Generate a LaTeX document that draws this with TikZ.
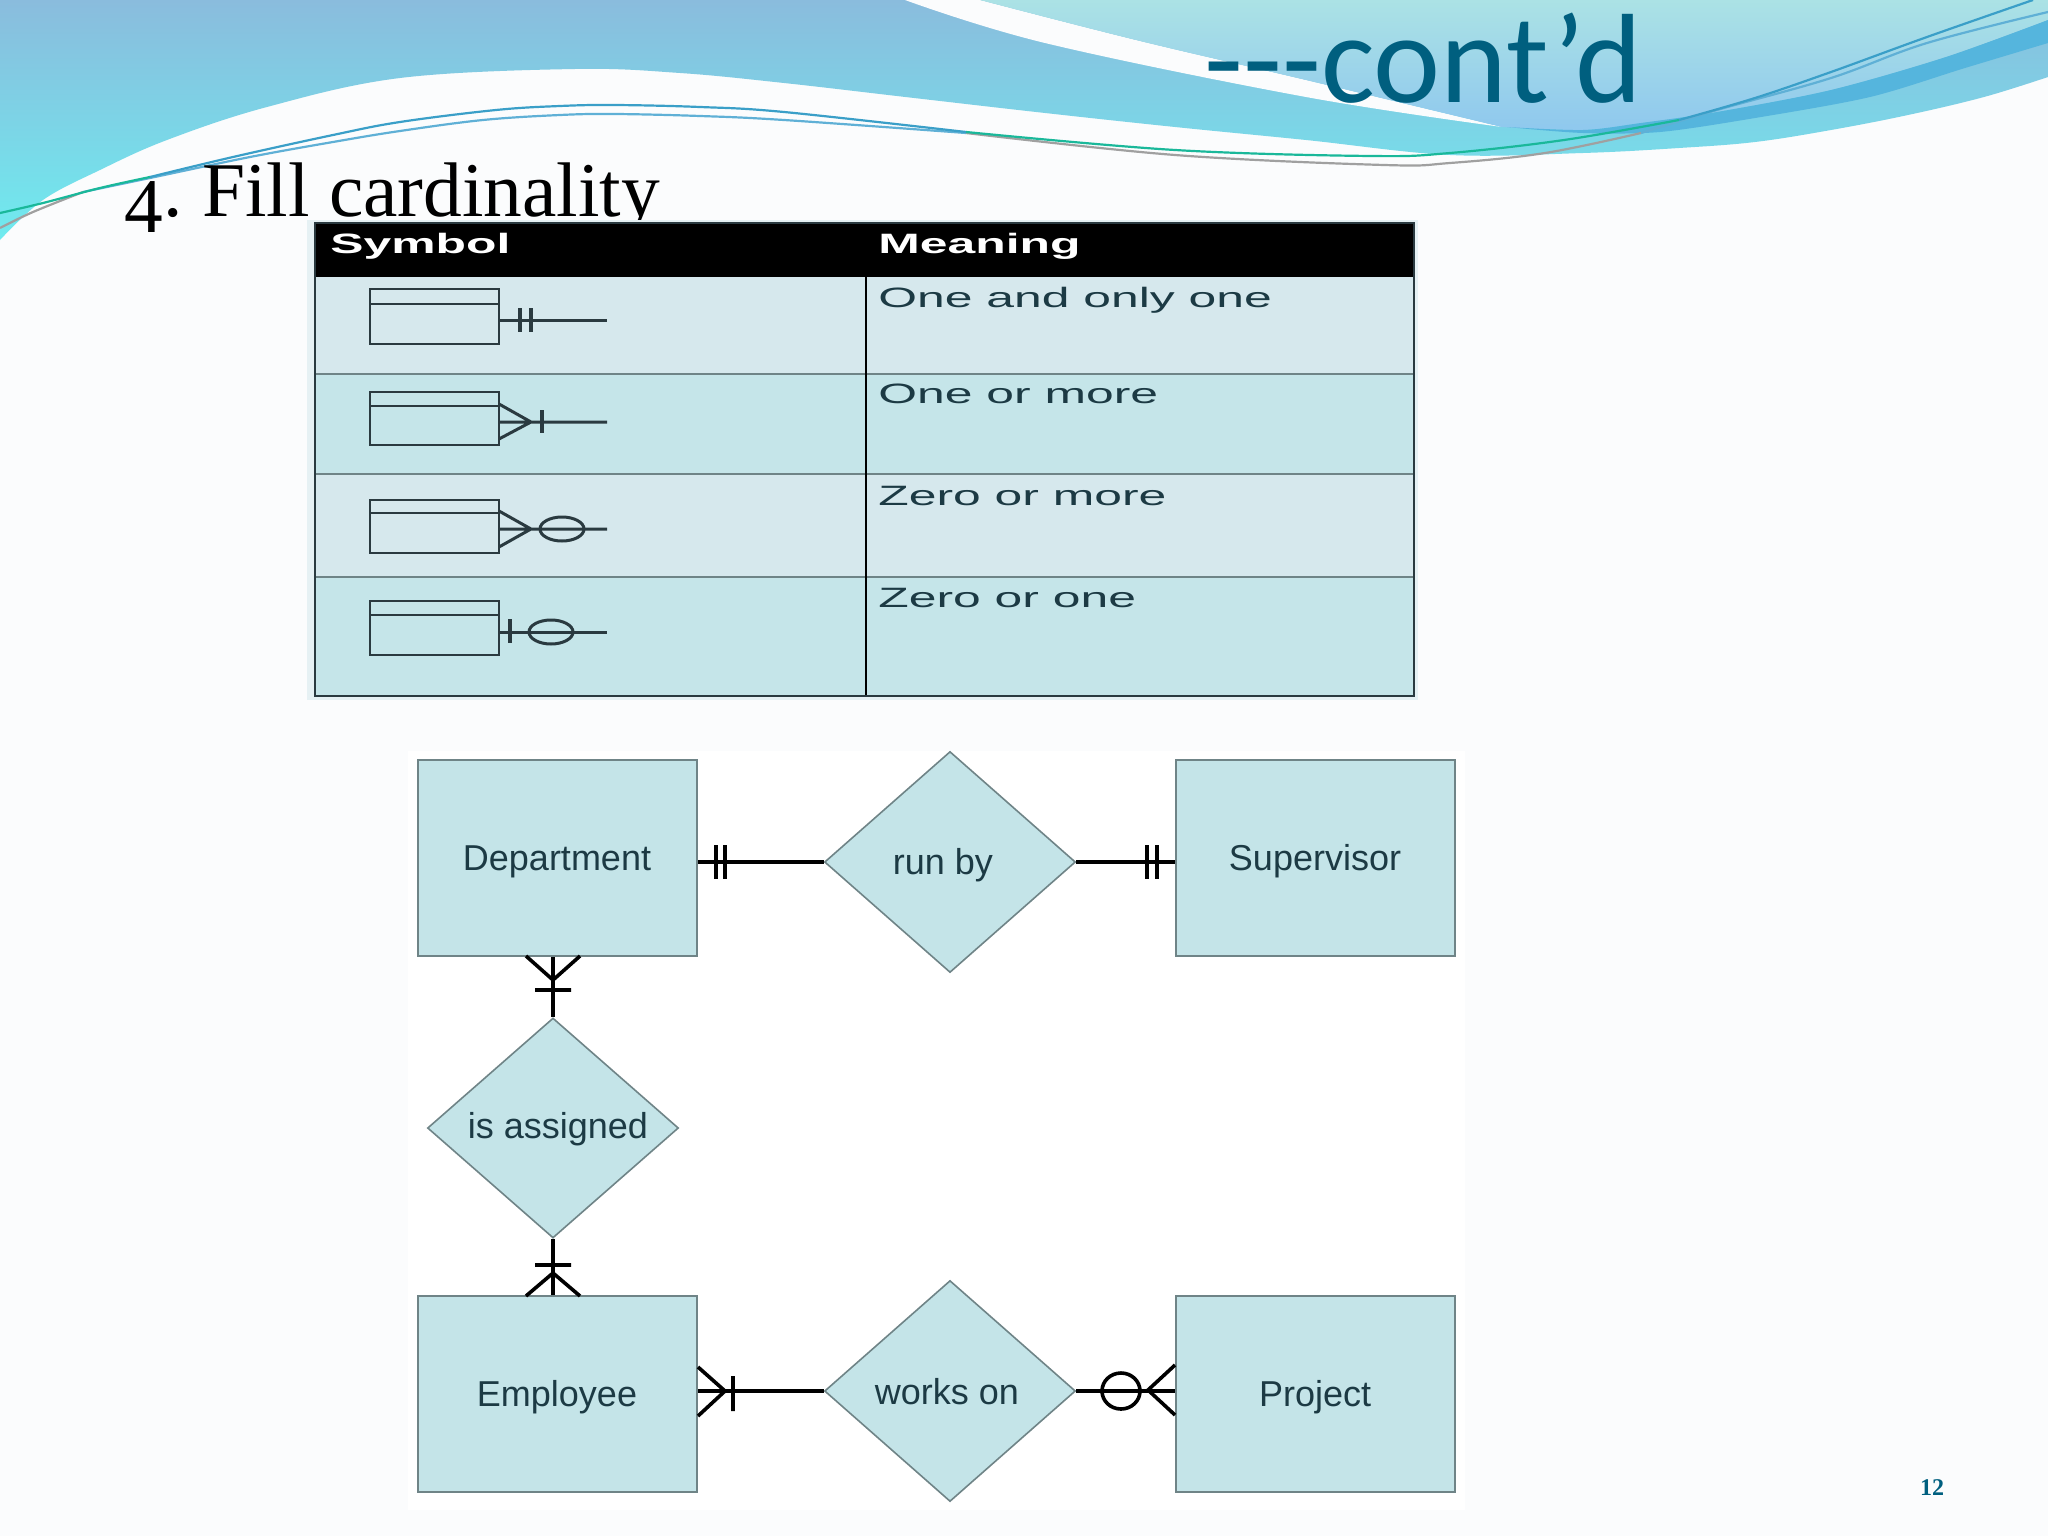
\documentclass[tikz,border=0pt]{standalone}
\usepackage{fontspec}
\setmainfont{Liberation Sans}
\newfontfamily\titlefont{Carlito}
\newfontfamily\seriffont{Liberation Serif}
\usetikzlibrary{shapes.geometric}
\definecolor{pagebg}{HTML}{FBFCFD}
\definecolor{rowa}{HTML}{D6E8ED}
\definecolor{rowb}{HTML}{C5E5E9}
\definecolor{panelbg}{HTML}{E6F1F4}
\definecolor{erfill}{HTML}{C4E4E8}
\definecolor{erline}{HTML}{6F8487}
\definecolor{ertext}{HTML}{1C3A44}
\definecolor{tealtxt}{HTML}{005F7F}
\definecolor{symline}{HTML}{2A3A40}
\definecolor{maintop}{HTML}{8ABCDD}
\definecolor{mainbot}{HTML}{6FEBEF}
\definecolor{lighttop}{HTML}{ABE2E5}
\definecolor{lightbot}{HTML}{8FC8EE}
\definecolor{darkband}{HTML}{55B5DD}
\definecolor{waveblue}{HTML}{3A9FC8}
\definecolor{wavepale}{HTML}{5FB0D6}
\definecolor{wavegreen}{HTML}{1AB89A}
\definecolor{wavegray}{HTML}{A0A0A0}
\tikzset{
  entity/.style={draw=erline,fill=erfill,line width=1pt,minimum width=139.5pt,minimum height=98pt,inner sep=0pt},
  relation/.style={diamond,draw=erline,fill=erfill,line width=.8pt,minimum width=125.5pt,minimum height=110.5pt,inner sep=0pt,aspect=1.13},
  erlabel/.style={anchor=center,inner sep=0pt,text=ertext,font=\fontsize{18}{20}\selectfont},
  erlink/.style={line width=1.7pt,black},
  ermark/.style={line width=1.8pt,black},
  symbox/.style={draw=symline,line width=.8pt,fill=none},
  symlink/.style={line width=1.5pt,symline},
  symbar/.style={line width=2.3pt,symline},
  rowtext/.style={anchor=base west,inner sep=0pt,text=ertext,font=\fontsize{14}{16}\selectfont},
  headtext/.style={anchor=base west,inner sep=0pt,text=white,font=\bfseries\fontsize{14}{16}\selectfont},
  waveline/.style={line width=1.1pt},
}
\newcommand{\widetxt}[1]{\scalebox{1.78}[1]{#1}}
\begin{document}
\begin{tikzpicture}[x=.5pt,y=-.5pt]
\useasboundingbox (0,0) rectangle (2048,1536);
\fill[pagebg] (0,0) rectangle (2048,1536);
% main band
\shade[top color=maintop,bottom color=mainbot] plot[smooth,tension=.6] coordinates {(0,240) (43,200) (100,170) (167,140) (267,107) (400,78) (575,69) (680,73) (784,83) (914,98) (1045,113) (1175,127) (1306,140) (1450,155) (1583,153) (1679,148) (1755,142) (1831,130) (1908,115) (1984,97) (2048,77)} -- (2048,0) -- (0,0) -- cycle;
% white swoosh
\fill[pagebg] plot[smooth,tension=.6] coordinates {(905,0) (1045,43) (1306,97) (1502,127)} -- plot[smooth,tension=.6] coordinates {(1502,127) (1306,80) (1136,40) (980,0)} -- cycle;
% light shape
\shade[top color=lighttop,bottom color=lightbot] plot[smooth,tension=.6] coordinates {(980,0) (1136,40) (1306,80) (1502,127)} -- plot[smooth,tension=.5] coordinates {(1502,127) (1583,130) (1641,123) (1717,112) (1831,90) (1946,57) (2048,20)} -- (2048,0) -- cycle;
% dark band
\fill[darkband] plot[smooth,tension=.5] coordinates {(1507,127) (1583,133) (1660,132) (1755,118) (1870,97) (1965,68) (2048,43)} -- (2048,20) -- plot[smooth,tension=.5] coordinates {(2048,20) (1946,57) (1831,90) (1717,112) (1641,123) (1583,130) (1507,127)} -- cycle;
% wave lines
\draw[wavepale,waveline] plot[smooth,tension=.6] coordinates {(83,192) (150,178) (250,157) (333,142) (400,131) (483,120) (560,115) (614,114) (700,116) (784,120) (966,133)};
\draw[wavegray,waveline] plot[smooth,tension=.6] coordinates {(0,228) (33,212) (83,192)};
\draw[wavegray,waveline] plot[smooth,tension=.6] coordinates {(966,133) (1175,155) (1384,165) (1450,163) (1545,153) (1641,133)};
\draw[wavepale,waveline] plot[smooth,tension=.6] coordinates {(1641,133) (1717,110) (1831,78) (1927,43) (2048,12)};
\draw[waveblue,waveline] plot[smooth,tension=.6] coordinates {(150,177) (233,157) (333,135) (400,122) (496,110) (560,106) (614,105) (700,107) (784,112) (966,132)};
\draw[wavegreen,waveline] plot[smooth,tension=.6] coordinates {(0,213) (43,203) (100,188) (150,177)};
\draw[wavegreen,waveline] plot[smooth,tension=.6] coordinates {(966,132) (1175,150) (1371,156) (1450,153) (1564,140) (1679,120)};
\draw[waveblue,waveline] plot[smooth,tension=.6] coordinates {(1679,120) (1755,98) (1831,72) (1927,37) (2033,0)};
% titles
\node[anchor=base west,inner sep=0pt,text=tealtxt,font=\titlefont\fontsize{63.5}{70}\selectfont] (cont) at (1204,103) {---cont’d};
\node[anchor=base west,inner sep=0pt,text=black,font=\seriffont\fontsize{38.7}{44}\selectfont] (fill) at (124,216) {\raisebox{-8pt}{4}.\hspace{-3pt} Fill cardinality};
\node[anchor=base,inner sep=0pt,text=tealtxt,font=\seriffont\bfseries\fontsize{12}{14}\selectfont] (pg) at (1932,1495) {12};
% table
\fill[panelbg] (307,220) rectangle (1418,700);
\fill[rowa] (315,277) rectangle (1414,374);
\fill[rowb] (315,374) rectangle (1414,474);
\fill[rowa] (315,474) rectangle (1414,577);
\fill[rowb] (315,577) rectangle (1414,696);
\fill[black] (315,223) rectangle (1414,277);
\draw[erline,line width=.9pt] (315,374) -- (1414,374) (315,474) -- (1414,474) (315,577) -- (1414,577);
\draw[black,line width=.8pt] (866,277) -- (866,696);
\draw[symline,line width=1.4pt] (315,223) rectangle (1414,696);
\node[headtext] (hs) at (330,253) {\widetxt{Symbol}};
\node[headtext] (hm) at (878,253) {\widetxt{Meaning}};
\node[rowtext] (r1) at (878,307) {\widetxt{One and only one}};
\node[rowtext] (r2) at (878,403) {\widetxt{One or more}};
\node[rowtext] (r3) at (878,505) {\widetxt{Zero or more}};
\node[rowtext] (r4) at (878,607) {\widetxt{Zero or one}};
% symbol 1
\draw[symbox] (370,289) rectangle (499,344) (370,304) -- (499,304);
\draw[symlink] (499,320) -- (607,320);
\draw[symbar] (520,308) -- (520,332) (531,308) -- (531,332);
% symbol 2
\draw[symbox] (370,392) rectangle (499,445) (370,406) -- (499,406);
\draw[symlink] (499,422) -- (607,422) (499,404) -- (531,422) -- (499,439);
\draw[symbar] (542,410) -- (542,433);
% symbol 3
\draw[symbox] (370,500) rectangle (499,553) (370,513) -- (499,513);
\draw[symlink] (499,529) -- (607,529) (499,511) -- (531,529) -- (499,547);
\draw[symlink] (562,529) ellipse [x radius=22,y radius=12];
% symbol 4
\draw[symbox] (370,601) rectangle (499,655) (370,615) -- (499,615);
\draw[symlink] (499,632) -- (607,632);
\draw[symbar] (510,619) -- (510,643);
\draw[symlink] (551,632) ellipse [x radius=22,y radius=12];
% ER white panel
\fill[white] (408,751) rectangle (1465,1510);
% ER nodes
\node[entity] (dept) at (557.5,858) {};
\node[entity] (sup) at (1315,858) {};
\node[entity] (emp) at (557.5,1394) {};
\node[entity] (proj) at (1315,1394) {};
\node[relation] (run) at (950,862) {};
\node[relation,minimum height=110pt] (assign) at (553,1128) {};
\node[relation] (works) at (950,1391) {};
\node[erlabel] (deptl) at (557,862) {Department};
\node[erlabel] (supl) at (1315,861) {Supervisor};
\node[erlabel] (empl) at (557,1397) {Employee};
\node[erlabel] (projl) at (1315,1397) {Project};
\node[erlabel] (runl) at (943,865) {run by};
\node[erlabel] (assl) at (558,1129) {is assigned};
\node[erlabel] (worl) at (947,1392) {works on};
% ER connectors
\draw[erlink] (dept.east |- run.west) -- (run.west);
\draw[erlink] (run.east) -- (sup.west |- run.east);
\draw[erlink] (emp.east |- works.west) -- (works.west);
\draw[erlink] (works.east) -- (proj.west |- works.east);
\draw[erlink] (assign.north) -- (assign.north |- dept.south);
\draw[erlink] (assign.south) -- (assign.south |- emp.north);
% marks
\draw[ermark] (716,845) -- (716,879) (725,845) -- (725,879);
\draw[ermark] (1147,845) -- (1147,879) (1157,845) -- (1157,879);
\draw[ermark] (526,956) -- (553,980) -- (580,956) (535,990) -- (571,990);
\draw[ermark] (526,1296) -- (553,1273) -- (580,1296) (535,1265) -- (571,1265);
\draw[ermark] (698,1367) -- (725,1391) -- (698,1416) (733,1376) -- (733,1411);
\draw[ermark] (1175,1365) -- (1148,1390) -- (1175,1415);
\draw[ermark] (1121,1391) ellipse [x radius=19,y radius=18];
\end{tikzpicture}
\end{document}
